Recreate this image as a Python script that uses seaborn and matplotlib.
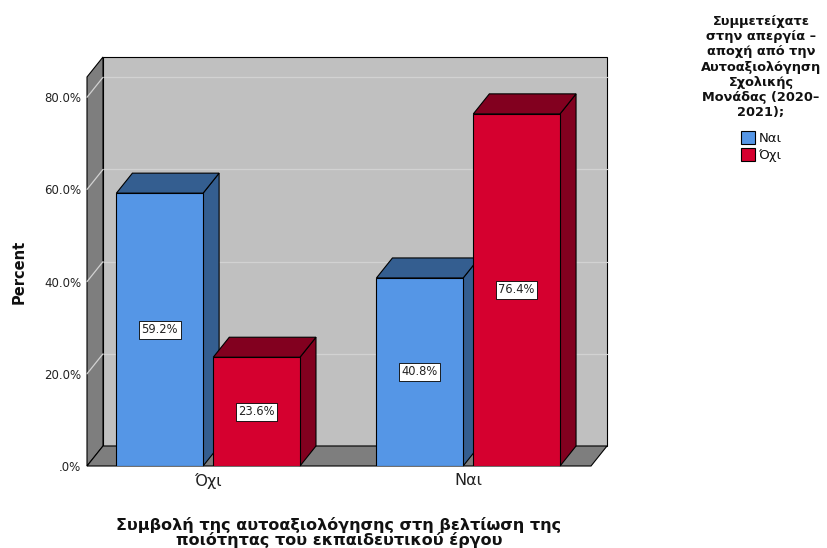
import matplotlib
matplotlib.use("Agg")
import matplotlib.pyplot as plt
from matplotlib.patches import Polygon, Rectangle
from matplotlib.ticker import FuncFormatter
import pandas as pd
import seaborn as sns

# Column percentages: contribution of self-evaluation (x) by strike participation (hue)
categories = ["Όχι", "Ναι"]
groups = ["Ναι", "Όχι"]
pct_participated_yes = [59.2, 40.8]
pct_participated_no = [23.6, 76.4]
y_ticks = [0, 20, 40, 60, 80]

legend_title = ("Συμμετείχατε\nστην απεργία –\nαποχή από την\nΑυτοαξιολόγηση\n"
                "Σχολικής\nΜονάδας (2020–\n2021);")
x_title = "Συμβολή της αυτοαξιολόγησης στη βελτίωση της\nποιότητας του εκπαιδευτικού έργου"

df = pd.DataFrame({
    "category": categories * 2,
    "group": [groups[0]] * len(categories) + [groups[1]] * len(categories),
    "percent": pct_participated_yes + pct_participated_no,
})

front_colors = {"Ναι": "#5596E6", "Όχι": "#D5002F"}
shade_colors = {"Ναι": "#345E90", "Όχι": "#82001F"}
wall_back = "#C0C0C0"
wall_side = "#7E7E7E"
grid_color = "#D2D2D2"

sns.set_theme(style="white")
plt.rcParams["font.family"] = ["DejaVu Sans"]

W, H = 828, 548
fig = plt.figure(figsize=(W / 100, H / 100), dpi=100)
ax_left, ax_right, ax_bottom, ax_top = 87, 591, 466, 77
ax = fig.add_axes([ax_left / W, 1 - ax_bottom / H,
                   (ax_right - ax_left) / W, (ax_bottom - ax_top) / H])

sns.barplot(data=df, x="category", y="percent", hue="group",
            order=categories, hue_order=groups, palette=front_colors,
            saturation=1, width=0.745, gap=0.105, edgecolor="black",
            linewidth=0.8, errorbar=None, ax=ax)

x0, x1 = -0.466, 1.472
y0, y1 = 0, 84.4
ax.set_xlim(x0, x1)
ax.set_ylim(y0, y1)

# oblique depth offset (16 px right, 20 px up) in data units
dx = 16 * (x1 - x0) / (ax_right - ax_left)
dy = 20 * (y1 - y0) / (ax_bottom - ax_top)

# box walls
ax.add_patch(Rectangle((x0 + dx, dy), x1 - x0, y1, facecolor=wall_back,
                       edgecolor="black", linewidth=0.8, zorder=0.2, clip_on=False))
ax.add_patch(Polygon([(x0, 0), (x0 + dx, dy), (x0 + dx, y1 + dy), (x0, y1)],
                     closed=True, facecolor=wall_side, edgecolor="black",
                     linewidth=0.8, zorder=0.3, clip_on=False))
ax.add_patch(Polygon([(x0, 0), (x1, 0), (x1 + dx, dy), (x0 + dx, dy)],
                     closed=True, facecolor=wall_side, edgecolor="black",
                     linewidth=0.8, zorder=0.3, clip_on=False))
for t in y_ticks[1:]:
    ax.plot([x0 + dx, x1 + dx], [t + dy, t + dy], color=grid_color, lw=0.9,
            zorder=0.25, clip_on=False)
    ax.plot([x0, x0 + dx], [t, t + dy], color=grid_color, lw=0.9,
            zorder=0.35, clip_on=False)

# extrude each bar with a top and a side face, then label it
bars = []
for container, g in zip(ax.containers, groups):
    for p in container.patches:
        bars.append((p, g))
bars.sort(key=lambda item: item[0].get_x())
for i, (p, g) in enumerate(bars):
    z = 2 + i
    bx, w, h = p.get_x(), p.get_width(), p.get_height()
    p.set_zorder(z + 0.2)
    ax.add_patch(Polygon([(bx + w, 0), (bx + w + dx, dy), (bx + w + dx, h + dy), (bx + w, h)],
                         closed=True, facecolor=shade_colors[g], edgecolor="black",
                         linewidth=0.8, zorder=z, clip_on=False))
    ax.add_patch(Polygon([(bx, h), (bx + w, h), (bx + w + dx, h + dy), (bx + dx, h + dy)],
                         closed=True, facecolor=shade_colors[g], edgecolor="black",
                         linewidth=0.8, zorder=z + 0.1, clip_on=False))
    ax.text(bx + w / 2, h / 2, f"{h:.1f}%", ha="center", va="center", fontsize=8.3,
            color="#222222", zorder=z + 0.5,
            bbox=dict(boxstyle="square,pad=0.22", facecolor="white",
                      edgecolor="black", linewidth=0.6))


def pct_fmt(v, _pos):
    s = f"{v:.1f}%"
    return s[1:] if s.startswith("0.") else s


ax.set_yticks(y_ticks)
ax.yaxis.set_major_formatter(FuncFormatter(pct_fmt))
ax.tick_params(axis="y", length=0, pad=4, labelsize=8.5, labelcolor="#222222")
ax.tick_params(axis="x", length=0, pad=5, labelsize=11.5, labelcolor="#222222")
for s in ax.spines.values():
    s.set_visible(False)
ax.patch.set_visible(False)
ax.grid(False)

ax.set_xlabel(x_title, fontsize=11.5, fontweight="bold", linespacing=0.93,
              color="#111111")
ax.xaxis.set_label_coords(0.5, -0.13)
ax.set_ylabel("Percent", fontsize=10.5, fontweight="bold", color="#111111")
ax.yaxis.set_label_coords(-0.12, 0.5)

sns.move_legend(ax, "upper center", bbox_to_anchor=(761 / W, 1 - 6 / H),
                bbox_transform=fig.transFigure, title=legend_title, frameon=False,
                fontsize=9.5, handlelength=1.1, handleheight=1.1, handletextpad=0.25,
                labelspacing=0.25, alignment="center", borderpad=0.2)
leg = ax.get_legend()
title = leg.get_title()
title.set_fontweight("bold")
title.set_fontsize(9.3)
title.set_color("#111111")
title.set_multialignment("center")
title.set_linespacing(1.21)
# wider gap between the title block and the entries
leg._legend_box.sep = 9
for txt in leg.get_texts():
    txt.set_color("#111111")
for hnd in leg.legend_handles:
    hnd.set_edgecolor("black")
    hnd.set_linewidth(0.8)

fig.savefig("out.png", dpi=100)
